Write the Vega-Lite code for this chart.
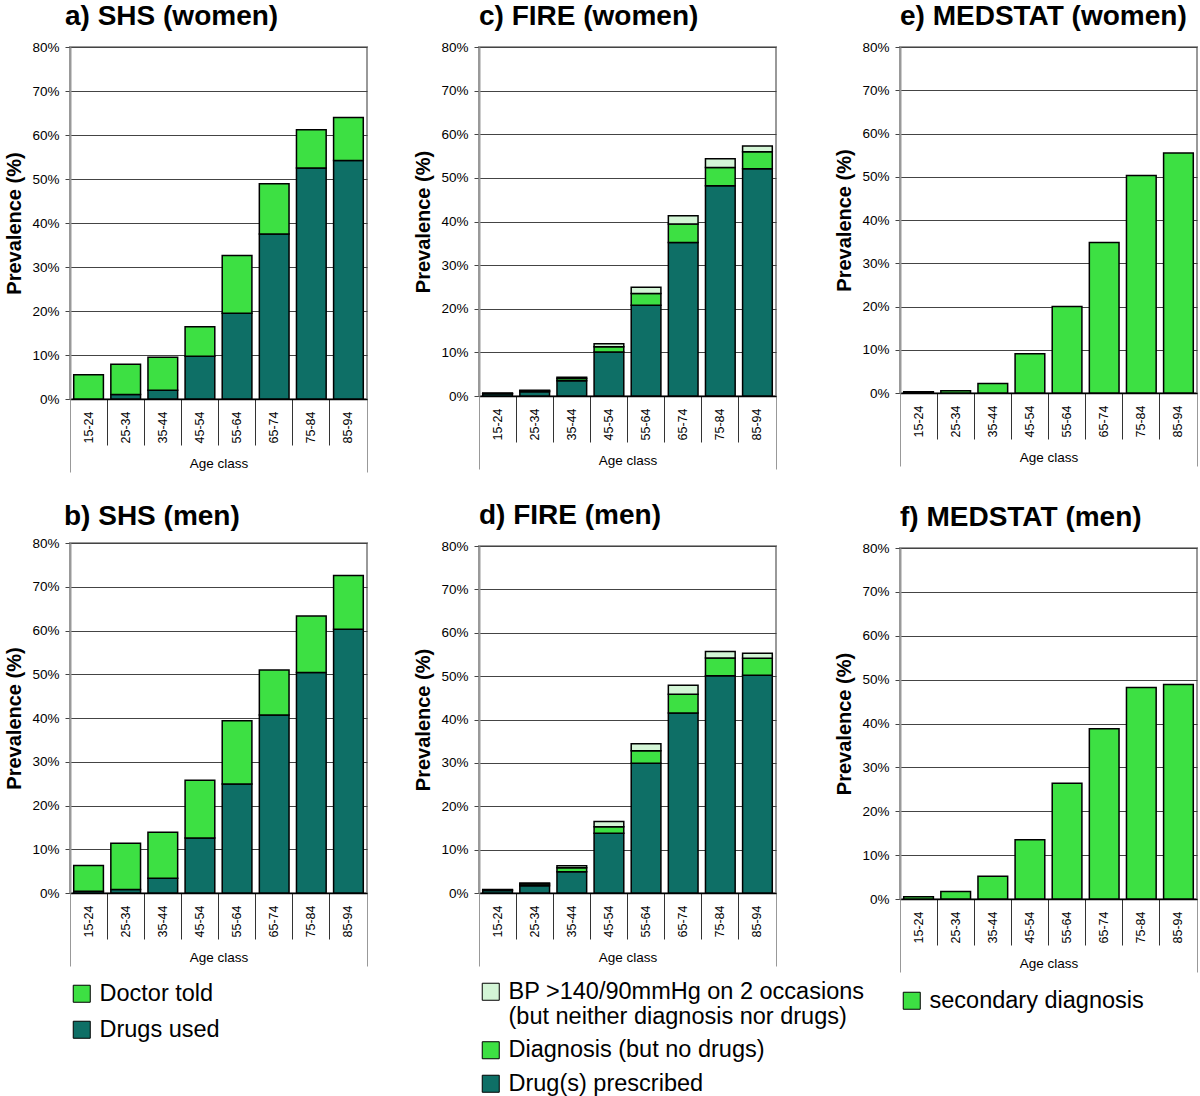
{
  "$schema": "https://vega.github.io/schema/vega-lite/v6.json",
  "padding": {"left": 3, "top": 2, "right": 0, "bottom": 0},
  "background": "white",
  "config": {
    "font": "Liberation Sans",
    "view": {"stroke": "#999", "strokeWidth": 2},
    "title": {"fontSize": 28, "fontWeight": "bold", "anchor": "start", "frame": "group", "color": "#000", "offset": 9, "font": "Liberation Sans"},
    "axis": {"labelColor": "#000", "titleColor": "#000", "labelFont": "Liberation Sans", "titleFont": "Liberation Sans"},
    "legend": {"orient": "bottom", "direction": "vertical", "title": null, "labelFontSize": 23.5, "labelFont": "Liberation Sans", "labelColor": "#000", "symbolType": "square", "symbolSize": 290, "symbolStrokeColor": "#000", "symbolStrokeWidth": 1, "symbolOpacity": 1, "rowPadding": 10, "labelOffset": 6, "offset": 15, "labelLimit": 600}
  },
  "datasets": {
    "shs": [
      {"sex": "women", "age": "15-24", "cat": "Drugs used", "v": 0},
      {"sex": "women", "age": "15-24", "cat": "Doctor told", "v": 5.5},
      {"sex": "women", "age": "25-34", "cat": "Drugs used", "v": 1.0},
      {"sex": "women", "age": "25-34", "cat": "Doctor told", "v": 6.9},
      {"sex": "women", "age": "35-44", "cat": "Drugs used", "v": 2.0},
      {"sex": "women", "age": "35-44", "cat": "Doctor told", "v": 7.5},
      {"sex": "women", "age": "45-54", "cat": "Drugs used", "v": 9.7},
      {"sex": "women", "age": "45-54", "cat": "Doctor told", "v": 6.7},
      {"sex": "women", "age": "55-64", "cat": "Drugs used", "v": 19.5},
      {"sex": "women", "age": "55-64", "cat": "Doctor told", "v": 13.1},
      {"sex": "women", "age": "65-74", "cat": "Drugs used", "v": 37.5},
      {"sex": "women", "age": "65-74", "cat": "Doctor told", "v": 11.4},
      {"sex": "women", "age": "75-84", "cat": "Drugs used", "v": 52.5},
      {"sex": "women", "age": "75-84", "cat": "Doctor told", "v": 8.7},
      {"sex": "women", "age": "85-94", "cat": "Drugs used", "v": 54.2},
      {"sex": "women", "age": "85-94", "cat": "Doctor told", "v": 9.8},
      {"sex": "men", "age": "15-24", "cat": "Drugs used", "v": 0.4},
      {"sex": "men", "age": "15-24", "cat": "Doctor told", "v": 5.9},
      {"sex": "men", "age": "25-34", "cat": "Drugs used", "v": 0.8},
      {"sex": "men", "age": "25-34", "cat": "Doctor told", "v": 10.6},
      {"sex": "men", "age": "35-44", "cat": "Drugs used", "v": 3.4},
      {"sex": "men", "age": "35-44", "cat": "Doctor told", "v": 10.5},
      {"sex": "men", "age": "45-54", "cat": "Drugs used", "v": 12.6},
      {"sex": "men", "age": "45-54", "cat": "Doctor told", "v": 13.2},
      {"sex": "men", "age": "55-64", "cat": "Drugs used", "v": 24.9},
      {"sex": "men", "age": "55-64", "cat": "Doctor told", "v": 14.5},
      {"sex": "men", "age": "65-74", "cat": "Drugs used", "v": 40.7},
      {"sex": "men", "age": "65-74", "cat": "Doctor told", "v": 10.3},
      {"sex": "men", "age": "75-84", "cat": "Drugs used", "v": 50.4},
      {"sex": "men", "age": "75-84", "cat": "Doctor told", "v": 12.9},
      {"sex": "men", "age": "85-94", "cat": "Drugs used", "v": 60.3},
      {"sex": "men", "age": "85-94", "cat": "Doctor told", "v": 12.3}
    ],
    "fire": [
      {"sex": "women", "age": "15-24", "cat": "Drug(s) prescribed", "v": 0.5},
      {"sex": "women", "age": "15-24", "cat": "Diagnosis (but no drugs)", "v": 0.1},
      {"sex": "women", "age": "15-24", "cat": "BP >140/90mmHg on 2 occasions (but neither diagnosis nor drugs)", "v": 0.1},
      {"sex": "women", "age": "25-34", "cat": "Drug(s) prescribed", "v": 1.0},
      {"sex": "women", "age": "25-34", "cat": "Diagnosis (but no drugs)", "v": 0.2},
      {"sex": "women", "age": "25-34", "cat": "BP >140/90mmHg on 2 occasions (but neither diagnosis nor drugs)", "v": 0.1},
      {"sex": "women", "age": "35-44", "cat": "Drug(s) prescribed", "v": 3.5},
      {"sex": "women", "age": "35-44", "cat": "Diagnosis (but no drugs)", "v": 0.5},
      {"sex": "women", "age": "35-44", "cat": "BP >140/90mmHg on 2 occasions (but neither diagnosis nor drugs)", "v": 0.3},
      {"sex": "women", "age": "45-54", "cat": "Drug(s) prescribed", "v": 10.1},
      {"sex": "women", "age": "45-54", "cat": "Diagnosis (but no drugs)", "v": 1.2},
      {"sex": "women", "age": "45-54", "cat": "BP >140/90mmHg on 2 occasions (but neither diagnosis nor drugs)", "v": 0.7},
      {"sex": "women", "age": "55-64", "cat": "Drug(s) prescribed", "v": 20.8},
      {"sex": "women", "age": "55-64", "cat": "Diagnosis (but no drugs)", "v": 2.7},
      {"sex": "women", "age": "55-64", "cat": "BP >140/90mmHg on 2 occasions (but neither diagnosis nor drugs)", "v": 1.4},
      {"sex": "women", "age": "65-74", "cat": "Drug(s) prescribed", "v": 35.2},
      {"sex": "women", "age": "65-74", "cat": "Diagnosis (but no drugs)", "v": 4.2},
      {"sex": "women", "age": "65-74", "cat": "BP >140/90mmHg on 2 occasions (but neither diagnosis nor drugs)", "v": 1.9},
      {"sex": "women", "age": "75-84", "cat": "Drug(s) prescribed", "v": 48.2},
      {"sex": "women", "age": "75-84", "cat": "Diagnosis (but no drugs)", "v": 4.2},
      {"sex": "women", "age": "75-84", "cat": "BP >140/90mmHg on 2 occasions (but neither diagnosis nor drugs)", "v": 2.0},
      {"sex": "women", "age": "85-94", "cat": "Drug(s) prescribed", "v": 52.1},
      {"sex": "women", "age": "85-94", "cat": "Diagnosis (but no drugs)", "v": 3.9},
      {"sex": "women", "age": "85-94", "cat": "BP >140/90mmHg on 2 occasions (but neither diagnosis nor drugs)", "v": 1.3},
      {"sex": "men", "age": "15-24", "cat": "Drug(s) prescribed", "v": 0.6},
      {"sex": "men", "age": "15-24", "cat": "Diagnosis (but no drugs)", "v": 0.1},
      {"sex": "men", "age": "15-24", "cat": "BP >140/90mmHg on 2 occasions (but neither diagnosis nor drugs)", "v": 0.1},
      {"sex": "men", "age": "25-34", "cat": "Drug(s) prescribed", "v": 1.7},
      {"sex": "men", "age": "25-34", "cat": "Diagnosis (but no drugs)", "v": 0.4},
      {"sex": "men", "age": "25-34", "cat": "BP >140/90mmHg on 2 occasions (but neither diagnosis nor drugs)", "v": 0.2},
      {"sex": "men", "age": "35-44", "cat": "Drug(s) prescribed", "v": 4.9},
      {"sex": "men", "age": "35-44", "cat": "Diagnosis (but no drugs)", "v": 0.9},
      {"sex": "men", "age": "35-44", "cat": "BP >140/90mmHg on 2 occasions (but neither diagnosis nor drugs)", "v": 0.5},
      {"sex": "men", "age": "45-54", "cat": "Drug(s) prescribed", "v": 13.8},
      {"sex": "men", "age": "45-54", "cat": "Diagnosis (but no drugs)", "v": 1.5},
      {"sex": "men", "age": "45-54", "cat": "BP >140/90mmHg on 2 occasions (but neither diagnosis nor drugs)", "v": 1.2},
      {"sex": "men", "age": "55-64", "cat": "Drug(s) prescribed", "v": 29.9},
      {"sex": "men", "age": "55-64", "cat": "Diagnosis (but no drugs)", "v": 2.9},
      {"sex": "men", "age": "55-64", "cat": "BP >140/90mmHg on 2 occasions (but neither diagnosis nor drugs)", "v": 1.6},
      {"sex": "men", "age": "65-74", "cat": "Drug(s) prescribed", "v": 41.5},
      {"sex": "men", "age": "65-74", "cat": "Diagnosis (but no drugs)", "v": 4.3},
      {"sex": "men", "age": "65-74", "cat": "BP >140/90mmHg on 2 occasions (but neither diagnosis nor drugs)", "v": 2.1},
      {"sex": "men", "age": "75-84", "cat": "Drug(s) prescribed", "v": 50.1},
      {"sex": "men", "age": "75-84", "cat": "Diagnosis (but no drugs)", "v": 4.1},
      {"sex": "men", "age": "75-84", "cat": "BP >140/90mmHg on 2 occasions (but neither diagnosis nor drugs)", "v": 1.5},
      {"sex": "men", "age": "85-94", "cat": "Drug(s) prescribed", "v": 50.2},
      {"sex": "men", "age": "85-94", "cat": "Diagnosis (but no drugs)", "v": 3.9},
      {"sex": "men", "age": "85-94", "cat": "BP >140/90mmHg on 2 occasions (but neither diagnosis nor drugs)", "v": 1.2}
    ],
    "med": [
      {"sex": "women", "age": "15-24", "cat": "secondary diagnosis", "v": 0.3},
      {"sex": "women", "age": "25-34", "cat": "secondary diagnosis", "v": 0.5},
      {"sex": "women", "age": "35-44", "cat": "secondary diagnosis", "v": 2.2},
      {"sex": "women", "age": "45-54", "cat": "secondary diagnosis", "v": 9.1},
      {"sex": "women", "age": "55-64", "cat": "secondary diagnosis", "v": 20.0},
      {"sex": "women", "age": "65-74", "cat": "secondary diagnosis", "v": 34.8},
      {"sex": "women", "age": "75-84", "cat": "secondary diagnosis", "v": 50.3},
      {"sex": "women", "age": "85-94", "cat": "secondary diagnosis", "v": 55.5},
      {"sex": "men", "age": "15-24", "cat": "secondary diagnosis", "v": 0.5},
      {"sex": "men", "age": "25-34", "cat": "secondary diagnosis", "v": 1.7},
      {"sex": "men", "age": "35-44", "cat": "secondary diagnosis", "v": 5.2},
      {"sex": "men", "age": "45-54", "cat": "secondary diagnosis", "v": 13.5},
      {"sex": "men", "age": "55-64", "cat": "secondary diagnosis", "v": 26.4},
      {"sex": "men", "age": "65-74", "cat": "secondary diagnosis", "v": 38.8},
      {"sex": "men", "age": "75-84", "cat": "secondary diagnosis", "v": 48.2},
      {"sex": "men", "age": "85-94", "cat": "secondary diagnosis", "v": 48.9}
    ]
  },
  "spacing": 43,
  "resolve": {"scale": {"color": "independent"}},
  "hconcat": [
    {
      "spacing": 28,
      "vconcat": [
        {
          "title": {"text": "a) SHS (women)", "dx": -5},
          "width": 297, "height": 352,
          "data": {"name": "shs"},
          "transform": [{"filter": "datum.sex == 'women'"}],
          "resolve": {"axis": {"x": "independent"}},
          "layer": [
            {
              "mark": {"type": "bar", "stroke": "#000", "strokeWidth": 1.5, "width": {"band": 0.8}},
              "encoding": {
                "x": {"field": "age", "type": "nominal", "sort": null, "scale": {"paddingInner": 0, "paddingOuter": 0}, "axis": {"orient": "bottom", "title": "Age class", "titleFontSize": 13.5, "titleFontWeight": "normal", "titlePadding": -16, "labels": false, "bandPosition": 1, "tickSize": {"condition": {"test": "datum.value == '85-94'", "value": 73}, "value": 46}, "tickColor": {"condition": {"test": "datum.value == '85-94'", "value": "#999"}, "value": "#333"}, "tickWidth": 1, "domainColor": "#000", "domainWidth": 1.5}},
                "y": {"field": "v", "type": "quantitative", "stack": "zero", "scale": {"domain": [0, 80], "nice": false}, "axis": {"title": "Prevalence (%)", "titleFontSize": 20, "titleFontWeight": "bold", "titlePadding": 7, "values": [0, 10, 20, 30, 40, 50, 60, 70, 80], "labelExpr": "datum.value + '%'", "labelFontSize": 13.5, "labelPadding": 6, "tickSize": 5, "tickColor": "#444", "gridColor": "#444", "domainColor": "#999", "domainWidth": 2}},
                "color": {"field": "cat", "type": "nominal", "scale": {"domain": ["Doctor told", "Drugs used"], "range": ["#3DE043", "#0E6F66"]}, "legend": {"rowPadding": 11, "offset": 14}},
                "order": {"field": "cat", "sort": "descending"}
              }
            },
            {
              "mark": {"type": "bar", "opacity": 0, "width": {"band": 0.8}},
              "encoding": {
                "x": {"field": "age", "type": "nominal", "sort": null, "scale": {"paddingInner": 0, "paddingOuter": 0}, "axis": {"orient": "bottom", "title": null, "domain": false, "bandPosition": 0, "tickSize": 73, "tickWidth": 1, "tickColor": {"condition": {"test": "datum.value == '15-24'", "value": "#999"}, "value": "transparent"}, "labelAngle": 270, "labelFontSize": 12.5, "labelPadding": -61}}
              }
            }
          ]
        },
        {
          "title": {"text": "b) SHS (men)", "dx": -6, "offset": 5},
          "width": 297, "height": 350,
          "data": {"name": "shs"},
          "transform": [{"filter": "datum.sex == 'men'"}],
          "resolve": {"axis": {"x": "independent"}},
          "layer": [
            {
              "mark": {"type": "bar", "stroke": "#000", "strokeWidth": 1.5, "width": {"band": 0.8}},
              "encoding": {
                "x": {"field": "age", "type": "nominal", "sort": null, "scale": {"paddingInner": 0, "paddingOuter": 0}, "axis": {"orient": "bottom", "title": "Age class", "titleFontSize": 13.5, "titleFontWeight": "normal", "titlePadding": -16, "labels": false, "bandPosition": 1, "tickSize": {"condition": {"test": "datum.value == '85-94'", "value": 73}, "value": 46}, "tickColor": {"condition": {"test": "datum.value == '85-94'", "value": "#999"}, "value": "#333"}, "tickWidth": 1, "domainColor": "#000", "domainWidth": 1.5}},
                "y": {"field": "v", "type": "quantitative", "stack": "zero", "scale": {"domain": [0, 80], "nice": false}, "axis": {"title": "Prevalence (%)", "titleFontSize": 20, "titleFontWeight": "bold", "titlePadding": 7, "values": [0, 10, 20, 30, 40, 50, 60, 70, 80], "labelExpr": "datum.value + '%'", "labelFontSize": 13.5, "labelPadding": 6, "tickSize": 5, "tickColor": "#444", "gridColor": "#444", "domainColor": "#999", "domainWidth": 2}},
                "color": {"field": "cat", "type": "nominal", "scale": {"domain": ["Doctor told", "Drugs used"], "range": ["#3DE043", "#0E6F66"]}, "legend": {"rowPadding": 11, "offset": 14}},
                "order": {"field": "cat", "sort": "descending"}
              }
            },
            {
              "mark": {"type": "bar", "opacity": 0, "width": {"band": 0.8}},
              "encoding": {
                "x": {"field": "age", "type": "nominal", "sort": null, "scale": {"paddingInner": 0, "paddingOuter": 0}, "axis": {"orient": "bottom", "title": null, "domain": false, "bandPosition": 0, "tickSize": 73, "tickWidth": 1, "tickColor": {"condition": {"test": "datum.value == '15-24'", "value": "#999"}, "value": "transparent"}, "labelAngle": 270, "labelFontSize": 12.5, "labelPadding": -61}}
              }
            }
          ]
        }
      ]
    },
    {
      "spacing": -32,
      "resolve": {"scale": {"color": "independent"}},
      "hconcat": [
        {
          "spacing": 30,
          "vconcat": [
            {
              "title": "c) FIRE (women)",
              "width": 297, "height": 349,
              "data": {"name": "fire"},
              "transform": [{"filter": "datum.sex == 'women'"}],
              "resolve": {"axis": {"x": "independent"}},
              "layer": [
                {
                  "mark": {"type": "bar", "stroke": "#000", "strokeWidth": 1.5, "width": {"band": 0.8}},
                  "encoding": {
                    "x": {"field": "age", "type": "nominal", "sort": null, "scale": {"paddingInner": 0, "paddingOuter": 0}, "axis": {"orient": "bottom", "title": "Age class", "titleFontSize": 13.5, "titleFontWeight": "normal", "titlePadding": -16, "labels": false, "bandPosition": 1, "tickSize": {"condition": {"test": "datum.value == '85-94'", "value": 73}, "value": 46}, "tickColor": {"condition": {"test": "datum.value == '85-94'", "value": "#999"}, "value": "#333"}, "tickWidth": 1, "domainColor": "#000", "domainWidth": 1.5}},
                    "y": {"field": "v", "type": "quantitative", "stack": "zero", "scale": {"domain": [0, 80], "nice": false}, "axis": {"title": "Prevalence (%)", "titleFontSize": 20, "titleFontWeight": "bold", "titlePadding": 7, "values": [0, 10, 20, 30, 40, 50, 60, 70, 80], "labelExpr": "datum.value + '%'", "labelFontSize": 13.5, "labelPadding": 6, "tickSize": 5, "tickColor": "#444", "gridColor": "#444", "domainColor": "#999", "domainWidth": 2}},
                    "color": {"field": "cat", "type": "nominal", "scale": {"domain": ["BP >140/90mmHg on 2 occasions (but neither diagnosis nor drugs)", "Diagnosis (but no drugs)", "Drug(s) prescribed"], "range": ["#D3F5D6", "#3DE043", "#0E6F66"]}, "legend": {"rowPadding": 8.5, "offset": 12, "labelExpr": "indexof(datum.label, 'BP') == 0 ? ['BP >140/90mmHg on 2 occasions', '(but neither diagnosis nor drugs)'] : datum.label"}},
                    "order": {"field": "cat", "sort": "descending"}
                  }
                },
                {
                  "mark": {"type": "bar", "opacity": 0, "width": {"band": 0.8}},
                  "encoding": {
                    "x": {"field": "age", "type": "nominal", "sort": null, "scale": {"paddingInner": 0, "paddingOuter": 0}, "axis": {"orient": "bottom", "title": null, "domain": false, "bandPosition": 0, "tickSize": 73, "tickWidth": 1, "tickColor": {"condition": {"test": "datum.value == '15-24'", "value": "#999"}, "value": "transparent"}, "labelAngle": 270, "labelFontSize": 12.5, "labelPadding": -61}}
                  }
                }
              ]
            },
            {
              "title": "d) FIRE (men)",
              "width": 297, "height": 347,
              "data": {"name": "fire"},
              "transform": [{"filter": "datum.sex == 'men'"}],
              "resolve": {"axis": {"x": "independent"}},
              "layer": [
                {
                  "mark": {"type": "bar", "stroke": "#000", "strokeWidth": 1.5, "width": {"band": 0.8}},
                  "encoding": {
                    "x": {"field": "age", "type": "nominal", "sort": null, "scale": {"paddingInner": 0, "paddingOuter": 0}, "axis": {"orient": "bottom", "title": "Age class", "titleFontSize": 13.5, "titleFontWeight": "normal", "titlePadding": -16, "labels": false, "bandPosition": 1, "tickSize": {"condition": {"test": "datum.value == '85-94'", "value": 73}, "value": 46}, "tickColor": {"condition": {"test": "datum.value == '85-94'", "value": "#999"}, "value": "#333"}, "tickWidth": 1, "domainColor": "#000", "domainWidth": 1.5}},
                    "y": {"field": "v", "type": "quantitative", "stack": "zero", "scale": {"domain": [0, 80], "nice": false}, "axis": {"title": "Prevalence (%)", "titleFontSize": 20, "titleFontWeight": "bold", "titlePadding": 7, "values": [0, 10, 20, 30, 40, 50, 60, 70, 80], "labelExpr": "datum.value + '%'", "labelFontSize": 13.5, "labelPadding": 6, "tickSize": 5, "tickColor": "#444", "gridColor": "#444", "domainColor": "#999", "domainWidth": 2}},
                    "color": {"field": "cat", "type": "nominal", "scale": {"domain": ["BP >140/90mmHg on 2 occasions (but neither diagnosis nor drugs)", "Diagnosis (but no drugs)", "Drug(s) prescribed"], "range": ["#D3F5D6", "#3DE043", "#0E6F66"]}, "legend": {"rowPadding": 8.5, "offset": 12, "labelExpr": "indexof(datum.label, 'BP') == 0 ? ['BP >140/90mmHg on 2 occasions', '(but neither diagnosis nor drugs)'] : datum.label"}},
                    "order": {"field": "cat", "sort": "descending"}
                  }
                },
                {
                  "mark": {"type": "bar", "opacity": 0, "width": {"band": 0.8}},
                  "encoding": {
                    "x": {"field": "age", "type": "nominal", "sort": null, "scale": {"paddingInner": 0, "paddingOuter": 0}, "axis": {"orient": "bottom", "title": null, "domain": false, "bandPosition": 0, "tickSize": 73, "tickWidth": 1, "tickColor": {"condition": {"test": "datum.value == '15-24'", "value": "#999"}, "value": "transparent"}, "labelAngle": 270, "labelFontSize": 12.5, "labelPadding": -61}}
                  }
                }
              ]
            }
          ]
        },
        {
          "spacing": 35,
          "vconcat": [
            {
              "title": "e) MEDSTAT (women)",
              "width": 297, "height": 346,
              "data": {"name": "med"},
              "transform": [{"filter": "datum.sex == 'women'"}],
              "resolve": {"axis": {"x": "independent"}},
              "layer": [
                {
                  "mark": {"type": "bar", "stroke": "#000", "strokeWidth": 1.5, "width": {"band": 0.8}},
                  "encoding": {
                    "x": {"field": "age", "type": "nominal", "sort": null, "scale": {"paddingInner": 0, "paddingOuter": 0}, "axis": {"orient": "bottom", "title": "Age class", "titleFontSize": 13.5, "titleFontWeight": "normal", "titlePadding": -16, "labels": false, "bandPosition": 1, "tickSize": {"condition": {"test": "datum.value == '85-94'", "value": 73}, "value": 46}, "tickColor": {"condition": {"test": "datum.value == '85-94'", "value": "#999"}, "value": "#333"}, "tickWidth": 1, "domainColor": "#000", "domainWidth": 1.5}},
                    "y": {"field": "v", "type": "quantitative", "stack": "zero", "scale": {"domain": [0, 80], "nice": false}, "axis": {"title": "Prevalence (%)", "titleFontSize": 20, "titleFontWeight": "bold", "titlePadding": 7, "values": [0, 10, 20, 30, 40, 50, 60, 70, 80], "labelExpr": "datum.value + '%'", "labelFontSize": 13.5, "labelPadding": 6, "tickSize": 5, "tickColor": "#444", "gridColor": "#444", "domainColor": "#999", "domainWidth": 2}},
                    "color": {"field": "cat", "type": "nominal", "scale": {"domain": ["secondary diagnosis"], "range": ["#3DE043"]}}
                  }
                },
                {
                  "mark": {"type": "bar", "opacity": 0, "width": {"band": 0.8}},
                  "encoding": {
                    "x": {"field": "age", "type": "nominal", "sort": null, "scale": {"paddingInner": 0, "paddingOuter": 0}, "axis": {"orient": "bottom", "title": null, "domain": false, "bandPosition": 0, "tickSize": 73, "tickWidth": 1, "tickColor": {"condition": {"test": "datum.value == '15-24'", "value": "#999"}, "value": "transparent"}, "labelAngle": 270, "labelFontSize": 12.5, "labelPadding": -61}}
                  }
                }
              ]
            },
            {
              "title": "f) MEDSTAT (men)",
              "width": 297, "height": 351,
              "data": {"name": "med"},
              "transform": [{"filter": "datum.sex == 'men'"}],
              "resolve": {"axis": {"x": "independent"}},
              "layer": [
                {
                  "mark": {"type": "bar", "stroke": "#000", "strokeWidth": 1.5, "width": {"band": 0.8}},
                  "encoding": {
                    "x": {"field": "age", "type": "nominal", "sort": null, "scale": {"paddingInner": 0, "paddingOuter": 0}, "axis": {"orient": "bottom", "title": "Age class", "titleFontSize": 13.5, "titleFontWeight": "normal", "titlePadding": -16, "labels": false, "bandPosition": 1, "tickSize": {"condition": {"test": "datum.value == '85-94'", "value": 73}, "value": 46}, "tickColor": {"condition": {"test": "datum.value == '85-94'", "value": "#999"}, "value": "#333"}, "tickWidth": 1, "domainColor": "#000", "domainWidth": 1.5}},
                    "y": {"field": "v", "type": "quantitative", "stack": "zero", "scale": {"domain": [0, 80], "nice": false}, "axis": {"title": "Prevalence (%)", "titleFontSize": 20, "titleFontWeight": "bold", "titlePadding": 7, "values": [0, 10, 20, 30, 40, 50, 60, 70, 80], "labelExpr": "datum.value + '%'", "labelFontSize": 13.5, "labelPadding": 6, "tickSize": 5, "tickColor": "#444", "gridColor": "#444", "domainColor": "#999", "domainWidth": 2}},
                    "color": {"field": "cat", "type": "nominal", "scale": {"domain": ["secondary diagnosis"], "range": ["#3DE043"]}}
                  }
                },
                {
                  "mark": {"type": "bar", "opacity": 0, "width": {"band": 0.8}},
                  "encoding": {
                    "x": {"field": "age", "type": "nominal", "sort": null, "scale": {"paddingInner": 0, "paddingOuter": 0}, "axis": {"orient": "bottom", "title": null, "domain": false, "bandPosition": 0, "tickSize": 73, "tickWidth": 1, "tickColor": {"condition": {"test": "datum.value == '15-24'", "value": "#999"}, "value": "transparent"}, "labelAngle": 270, "labelFontSize": 12.5, "labelPadding": -61}}
                  }
                }
              ]
            }
          ]
        }
      ]
    }
  ]
}
